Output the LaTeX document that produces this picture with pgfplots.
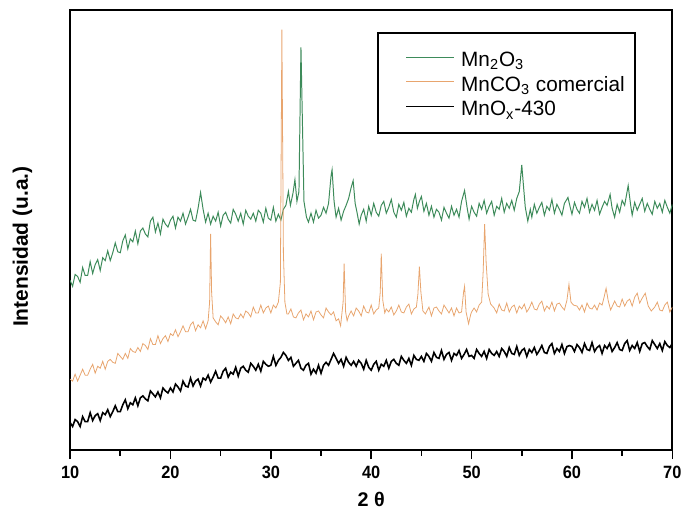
\documentclass[border=0pt]{standalone}
\usepackage{fontspec}
\setmainfont{Liberation Sans}
\usepackage{graphicx}
\usepackage{pgfplots}
\usepackage{pgfplotstable}
\pgfplotsset{compat=1.18}

\definecolor{xrdgreen}{HTML}{3D8B5A}
\definecolor{xrdorange}{HTML}{E8A56E}

% MnO_x-430 (black)
\pgfplotstableread{
x y
10.00 28
10.25 24
10.50 31
10.75 29
11.00 24
11.25 34
11.50 29
11.75 29
12.00 38
12.25 30
12.50 35
12.75 37
13.00 30
13.25 38
13.50 36
13.75 41
14.00 34
14.25 39
14.50 45
14.75 39
15.00 39
15.25 46
15.50 51
15.75 42
16.00 48
16.25 46
16.50 53
16.75 45
17.00 53
17.25 55
17.50 52
17.75 50
18.00 60
18.25 57
18.50 54
18.75 59
19.00 53
19.25 63
19.50 60
19.75 58
20.00 63
20.25 59
20.50 67
20.75 64
21.00 60
21.25 70
21.50 65
21.75 64
22.00 73
22.25 65
22.50 70
22.75 72
23.00 65
23.25 73
23.50 71
23.75 76
24.00 69
24.25 74
24.50 80
24.75 73
25.00 73
25.25 80
25.50 83
25.75 74
26.00 79
26.25 77
26.50 84
26.75 75
27.00 83
27.25 85
27.50 81
27.75 79
28.00 88
28.25 85
28.50 81
28.75 87
29.00 80
29.25 90
29.50 87
29.75 85
30.00 86
30.25 95
30.50 86
30.75 91
31.00 94
31.25 99
31.50 96
31.75 91
32.00 94
32.25 85
32.50 88
32.75 91
33.00 83
33.25 81
33.50 86
33.75 88
34.00 77
34.25 82
34.50 78
34.75 86
35.00 78
35.25 86
35.50 89
35.75 86
36.00 92
36.25 98
36.50 93
36.75 88
37.00 92
37.25 85
37.50 94
37.75 89
38.00 86
38.25 90
38.50 85
38.75 91
39.00 88
39.25 82
39.50 91
39.75 84
40.00 81
40.25 87
40.50 90
40.75 81
41.00 87
41.25 85
41.50 91
41.75 83
42.00 90
42.25 92
42.50 88
42.75 86
43.00 95
43.25 91
43.50 88
43.75 93
44.00 86
44.25 96
44.50 92
44.75 91
45.00 95
45.25 90
45.50 98
45.75 95
46.00 90
46.25 99
46.50 94
46.75 93
47.00 101
47.25 92
47.50 97
47.75 99
48.00 91
48.25 98
48.50 96
48.75 101
49.00 93
49.25 97
49.50 102
49.75 95
50.00 96
50.25 93
50.50 102
50.75 98
51.00 95
51.25 100
51.50 93
51.75 102
52.00 98
52.25 96
52.50 100
52.75 95
53.00 103
53.25 100
53.50 95
53.75 104
54.00 98
54.25 97
54.50 105
54.75 96
55.00 101
55.25 103
55.50 95
55.75 102
56.00 99
56.25 104
56.50 97
56.75 101
57.00 106
57.25 99
57.50 98
57.75 105
58.00 108
58.25 98
58.50 103
58.75 100
59.00 107
59.25 98
59.50 105
59.75 106
60.00 105
60.25 100
60.50 107
60.75 104
61.00 99
61.25 108
61.50 102
61.75 101
62.00 109
62.25 100
62.50 104
62.75 106
63.00 98
63.25 106
63.50 103
63.75 108
64.00 100
64.25 104
64.50 109
64.75 102
65.00 101
65.25 108
65.50 111
65.75 101
66.00 106
66.25 103
66.50 109
66.75 100
67.00 108
67.25 109
67.50 105
67.75 102
68.00 111
68.25 107
68.50 103
68.75 108
69.00 101
69.25 110
69.50 106
69.75 104
70.00 108
}\mnox

% MnCO3 comercial (orange)
\pgfplotstableread{
x y
10.00 72
10.25 70
10.50 77
10.75 70
11.00 76
11.25 82
11.50 76
11.75 76
12.00 82
12.25 87
12.50 78
12.75 85
13.00 83
13.25 90
13.50 82
13.75 90
14.00 92
14.25 89
14.50 88
14.75 98
15.00 95
15.25 92
15.50 98
15.75 93
16.00 103
16.25 100
16.50 99
16.75 104
17.00 100
17.25 108
17.50 106
17.75 102
18.00 113
18.25 107
18.50 107
18.75 116
19.00 108
19.25 113
19.50 116
19.75 110
20.00 118
20.25 116
20.50 122
20.75 115
21.00 120
21.25 126
21.50 120
21.75 120
22.00 127
22.25 130
22.50 121
22.75 127
23.00 124
23.25 131
23.50 123
23.75 131
23.90 150
24.00 219
24.10 160
24.25 134
24.50 130
24.75 127
25.00 136
25.25 133
25.50 129
25.75 135
26.00 128
26.25 138
26.50 134
26.75 133
27.00 138
27.25 134
27.50 141
27.75 139
28.00 135
28.25 145
28.50 139
28.75 139
29.00 147
29.25 139
29.50 144
29.75 146
30.00 139
30.25 147
30.50 144
30.75 150
30.95 170
31.10 426
31.25 200
31.40 150
31.60 138
31.75 138
32.00 143
32.25 135
32.50 134
32.75 139
33.00 142
33.25 132
33.50 138
33.75 135
34.00 141
34.25 132
34.50 140
34.75 141
35.00 137
35.25 134
35.50 144
35.75 140
36.00 137
36.25 140
36.50 131
36.75 133
36.95 126
37.20 150
37.30 189
37.45 140
37.60 131
37.75 136
38.00 141
38.25 136
38.50 144
38.75 141
39.00 136
39.25 146
39.50 140
39.75 139
40.00 147
40.25 138
40.50 142
40.75 144
40.90 160
41.00 199
41.15 152
41.35 139
41.50 143
41.75 140
42.00 145
42.25 137
42.50 141
42.75 147
43.00 140
43.25 139
43.50 145
43.75 148
44.00 138
44.25 143
44.50 145
44.65 158
44.80 186
44.95 160
45.15 141
45.40 138
45.75 145
46.00 136
46.25 144
46.50 145
46.75 141
47.00 138
47.25 147
47.50 143
47.75 139
48.00 144
48.25 136
48.50 144
48.75 139
49.00 140
49.20 160
49.30 166
49.45 140
49.70 128
49.90 137
50.00 140
50.25 144
50.50 140
50.75 147
51.00 150
51.15 180
51.30 229
51.45 190
51.65 158
51.90 148
52.25 144
52.50 139
52.75 148
53.00 142
53.25 141
53.50 149
53.75 140
54.00 145
54.25 147
54.50 139
54.75 146
55.00 143
55.25 148
55.50 140
55.75 144
56.00 150
56.25 143
56.50 142
56.75 148
57.00 151
57.25 141
57.50 146
57.75 143
58.00 150
58.25 141
58.50 148
58.75 149
59.00 145
59.25 142
59.50 152
59.70 168
59.90 150
60.15 147
60.50 146
60.75 142
61.00 147
61.25 140
61.50 149
61.75 144
62.00 143
62.25 147
62.50 142
62.75 149
63.00 147
63.20 155
63.40 164
63.60 152
63.85 142
64.25 151
64.50 146
64.75 145
65.00 153
65.25 146
65.50 151
65.75 153
66.00 146
66.25 155
66.50 159
66.75 149
67.00 154
67.30 159
67.60 146
67.90 141
68.25 145
68.50 150
68.75 142
69.00 141
69.25 147
69.50 150
69.75 140
70.00 145
}\mnco

% Mn2O3 (green)
\pgfplotstableread{
x y
10.00 172
10.25 166
10.50 178
10.75 176
11.00 170
11.25 185
11.50 177
11.75 177
12.00 191
12.25 179
12.50 188
12.75 193
13.00 182
13.25 195
13.50 192
13.75 202
14.00 192
14.25 200
14.50 210
14.75 201
15.00 200
15.25 212
15.50 218
15.75 204
16.00 214
16.25 211
16.50 222
16.75 209
17.00 222
17.25 225
17.50 219
17.75 216
18.00 232
18.25 236
18.50 221
18.75 230
19.00 219
19.25 234
19.50 229
19.75 226
20.00 233
20.25 237
20.50 225
20.75 236
21.00 232
21.25 240
21.50 229
21.75 236
22.00 244
22.25 233
22.50 232
22.75 245
23.00 261
23.25 244
23.50 231
23.75 240
24.00 229
24.25 237
24.50 232
24.75 241
25.00 227
25.25 238
25.50 241
25.75 234
26.00 230
26.25 244
26.50 239
26.75 232
27.00 240
27.25 229
27.50 243
27.75 237
28.00 234
28.25 240
28.50 232
28.75 243
29.00 240
29.25 231
29.50 245
29.75 235
30.00 233
30.25 246
30.50 232
30.75 239
31.00 233
31.25 244
31.50 248
31.75 262
31.95 248
32.20 260
32.40 274
32.60 252
32.80 262
33.00 408
33.15 330
33.30 252
33.55 236
33.75 231
34.00 240
34.25 231
34.50 243
34.75 235
35.00 238
35.25 246
35.50 240
35.75 250
36.00 278
36.10 284
36.30 252
36.50 236
36.75 245
37.00 233
37.25 242
37.50 248
37.75 255
38.00 266
38.20 273
38.40 250
38.60 240
38.80 229
39.00 238
39.25 244
39.50 232
39.75 247
40.00 238
40.25 250
40.50 241
40.75 237
41.00 248
41.25 252
41.50 240
41.75 246
42.00 254
42.25 241
42.50 236
42.75 249
43.00 243
43.25 251
43.50 237
43.75 245
44.00 241
44.25 254
44.40 259
44.60 245
44.80 252
45.00 257
45.25 242
45.50 250
45.75 238
46.00 247
46.25 236
46.50 244
46.75 241
47.00 233
47.25 246
47.50 240
47.75 235
48.00 247
48.25 238
48.50 244
48.75 236
49.00 252
49.30 263
49.55 246
49.75 234
50.00 247
50.25 241
50.50 237
50.75 250
51.00 244
51.25 253
51.50 240
51.75 247
52.00 252
52.25 238
52.50 247
52.75 244
53.00 255
53.25 241
53.50 250
53.75 245
54.00 253
54.25 243
54.50 255
54.75 262
55.00 289
55.15 270
55.35 246
55.60 232
55.85 244
56.00 236
56.25 249
56.50 240
56.75 246
57.00 251
57.25 238
57.50 247
57.75 243
58.00 254
58.25 240
58.50 249
58.75 244
59.00 238
59.25 250
59.60 256
59.85 245
60.00 239
60.25 251
60.50 244
60.75 240
61.00 252
61.25 246
61.50 255
61.75 241
62.00 249
62.25 243
62.50 253
62.75 239
63.00 246
63.25 252
63.50 248
63.80 259
64.00 245
64.25 236
64.50 249
64.75 241
65.00 253
65.25 248
65.60 268
65.85 248
66.00 238
66.25 251
66.50 243
66.75 249
67.00 255
67.25 242
67.50 250
67.75 244
68.00 239
68.25 252
68.50 245
68.75 250
69.00 241
69.25 253
69.50 246
69.75 240
70.00 249
}\mntwo

\begin{document}
\begin{tikzpicture}
\begin{axis}[
  scale only axis,
  width=305pt, height=223pt,
  xmin=10, xmax=70, ymin=0, ymax=446,
  xtick={10,20,...,70},
  minor x tick num=1,
  ytick=\empty,
  xtick pos=left,
  tick align=outside,
  major tick length=4.5pt,
  minor tick length=2.7pt,
  axis line style={line width=1pt},
  every tick/.style={black, line width=0.8pt},
  xticklabel={\scalebox{0.92}[1]{\bfseries\pgfmathprintnumber[assume math mode=true]{\tick}}},
  tick label style={font=\fontsize{9}{10}\selectfont},
  xlabel={\bfseries 2 θ},
  xlabel style={font=\fontsize{10}{12}\selectfont},
  ylabel={\bfseries Intensidad (u.a.)},
  ylabel style={font=\fontsize{10.6}{12}\selectfont, at={(axis description cs:-0.079,0.462)}, anchor=center, rotate=0},
  legend cell align=left,
  legend image code/.code={\draw[#1] (0pt,3.5pt) -- (24pt,3.5pt);},
  legend style={draw=none, fill=none, at={(rel axis cs:0.556,0.906)}, anchor=north west,
    inner sep=0pt, font=\fontsize{10.5}{12}\selectfont,
    nodes={inner ysep=0pt, inner xsep=3.5pt, text height=7.5pt, text depth=5pt}},
]
\addplot[xrdgreen, line width=0.5pt] table[x=x, y=y] {\mntwo};
\addlegendentry{Mn\textsubscript{2}O\textsubscript{3}}
\addplot[xrdorange, line width=0.4pt] table[x=x, y=y] {\mnco};
\addlegendentry{MnCO\textsubscript{3} comercial}
\addplot[black, line width=0.8pt] table[x=x, y=y] {\mnox};
\addlegendentry{MnO\textsubscript{x}-430}
\draw[line width=0.8pt] (rel axis cs:0.511,0.720) rectangle (rel axis cs:0.938,0.948);
\end{axis}
\path (current axis.south west) ++(-35.5pt,-33pt);
\path (current axis.north east) ++(3.5pt,5pt);
\end{tikzpicture}
\end{document}
